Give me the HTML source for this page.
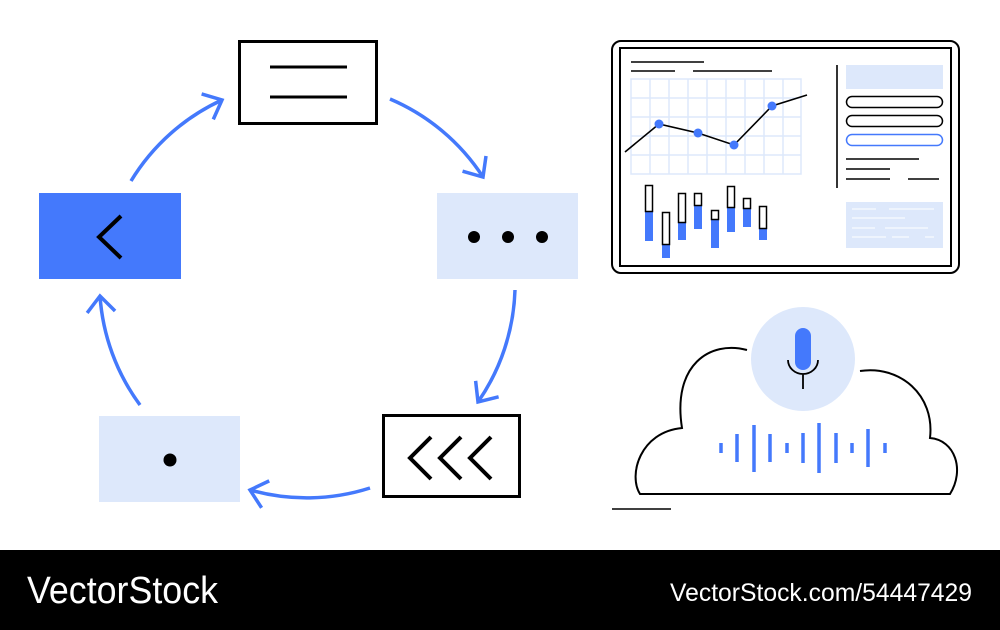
<!DOCTYPE html>
<html><head><meta charset="utf-8"><style>
html,body{margin:0;padding:0;background:#fff;width:1000px;height:630px;overflow:hidden}
svg{display:block}
</style></head><body>
<svg width="1000" height="630" viewBox="0 0 1000 630" xmlns="http://www.w3.org/2000/svg">
<defs>
<marker id="ah" markerUnits="userSpaceOnUse" markerWidth="44" markerHeight="44" refX="22" refY="22" orient="auto">
<path d="M6,8 L22,22 L6,36" fill="none" stroke="#4479fc" stroke-width="3.5"/>
</marker>
</defs>
<g fill="none" stroke="#4479fc" stroke-width="3.5" marker-end="url(#ah)">
<path d="M131,181 A208,208 0 0 1 222,100"/>
<path d="M390,99 A208,208 0 0 1 483,177"/>
<path d="M515,290 A208,208 0 0 1 478,402"/>
<path d="M370,488 A208,208 0 0 1 250,490"/>
<path d="M140,405 A208,208 0 0 1 100,296"/>
</g>
<!-- boxes -->
<rect x="239.5" y="41.5" width="137" height="82" fill="#fff" stroke="#000" stroke-width="3"/>
<line x1="270" y1="67" x2="347" y2="67" stroke="#000" stroke-width="3"/>
<line x1="270" y1="97" x2="347" y2="97" stroke="#000" stroke-width="3"/>
<rect x="437" y="193" width="141" height="86" fill="#dde8fb"/>
<circle cx="474" cy="237" r="6" fill="#000"/><circle cx="508" cy="237" r="6" fill="#000"/><circle cx="542" cy="237" r="6" fill="#000"/>
<rect x="383.5" y="415.5" width="136" height="81" fill="#fff" stroke="#000" stroke-width="3"/>
<path d="M431,437 L410,458 L431,479 M461,437 L440,458 L461,479 M491,437 L470,458 L491,479" fill="none" stroke="#000" stroke-width="4"/>
<rect x="99" y="416" width="141" height="86" fill="#dde8fb"/>
<circle cx="170" cy="460" r="6.5" fill="#000"/>
<rect x="39" y="193" width="142" height="86" fill="#4479fc"/>
<path d="M121,216 L99,237 L121,258" fill="none" stroke="#000" stroke-width="4"/>
<!-- tablet -->
<rect x="612" y="41" width="347" height="232" rx="9" fill="#fff" stroke="#000" stroke-width="2"/>
<rect x="620" y="48" width="331" height="218" fill="none" stroke="#000" stroke-width="2"/>
<g stroke="#000" stroke-width="1.6">
<line x1="631" y1="62" x2="704" y2="62"/><line x1="631" y1="71" x2="675" y2="71"/><line x1="693" y1="71" x2="772" y2="71"/>
</g>
<g stroke="#dde8fb" stroke-width="1.5" fill="none">
<rect x="631" y="79" width="170" height="95"/>
<line x1="650" y1="79" x2="650" y2="174"/><line x1="669" y1="79" x2="669" y2="174"/><line x1="688" y1="79" x2="688" y2="174"/><line x1="707" y1="79" x2="707" y2="174"/><line x1="726" y1="79" x2="726" y2="174"/><line x1="745" y1="79" x2="745" y2="174"/><line x1="764" y1="79" x2="764" y2="174"/><line x1="783" y1="79" x2="783" y2="174"/>
<line x1="631" y1="98" x2="801" y2="98"/><line x1="631" y1="117" x2="801" y2="117"/><line x1="631" y1="136" x2="801" y2="136"/><line x1="631" y1="155" x2="801" y2="155"/>
</g>
<polyline points="625,152 659,124 698,133 734,145 772,106 807,95" fill="none" stroke="#000" stroke-width="1.6"/>
<g fill="#4479fc"><circle cx="659" cy="124" r="4.5"/><circle cx="698" cy="133" r="4.5"/><circle cx="734" cy="145" r="4.5"/><circle cx="772" cy="106" r="4.5"/></g>
<g fill="#4479fc">
<rect x="645" y="212" width="8" height="29"/><rect x="662" y="245" width="8" height="13"/><rect x="678" y="223" width="8" height="17"/><rect x="694" y="206" width="8" height="23"/><rect x="711" y="220" width="8" height="28"/><rect x="727" y="208" width="8" height="24"/><rect x="743" y="209" width="8" height="18"/><rect x="759" y="229" width="8" height="11"/>
</g>
<g fill="none" stroke="#000" stroke-width="1.5">
<rect x="645.5" y="185.5" width="7" height="26"/><rect x="662.5" y="212.5" width="7" height="32"/><rect x="678.5" y="193.5" width="7" height="29"/><rect x="694.5" y="193.5" width="7" height="12"/><rect x="711.5" y="210.5" width="7" height="9"/><rect x="727.5" y="186.5" width="7" height="21"/><rect x="743.5" y="198.5" width="7" height="10"/><rect x="759.5" y="206.5" width="7" height="22"/>
</g>
<line x1="837" y1="65" x2="837" y2="188" stroke="#000" stroke-width="1.6"/>
<rect x="846" y="65" width="97" height="24" fill="#dde8fb"/>
<rect x="846.5" y="96.5" width="96" height="11" rx="5.5" fill="none" stroke="#000" stroke-width="1.5"/>
<rect x="846.5" y="115.5" width="96" height="11" rx="5.5" fill="none" stroke="#000" stroke-width="1.5"/>
<rect x="846.5" y="134.5" width="96" height="11" rx="5.5" fill="none" stroke="#4479fc" stroke-width="1.5"/>
<g stroke="#000" stroke-width="1.6"><line x1="846" y1="159" x2="919" y2="159"/><line x1="846" y1="169" x2="890" y2="169"/><line x1="846" y1="179" x2="890" y2="179"/><line x1="908" y1="179" x2="939" y2="179"/></g>
<rect x="846" y="202" width="97" height="46" fill="#dde8fb"/>
<g stroke="#fff" stroke-width="1"><line x1="852" y1="209" x2="876" y2="209"/><line x1="889" y1="209" x2="934" y2="209"/><line x1="852" y1="218" x2="905" y2="218"/><line x1="852" y1="228" x2="875" y2="228"/><line x1="885" y1="228" x2="928" y2="228"/><line x1="852" y1="237" x2="886" y2="237"/><line x1="892" y1="237" x2="909" y2="237"/><line x1="925" y1="237" x2="934" y2="237"/></g>
<!-- cloud -->
<path d="M747,350 C710,340 672,365 682,428 C640,432 628,475 640,494 L950,494 C965,470 955,440 930,438 C935,395 900,365 860,371" fill="none" stroke="#000" stroke-width="2"/>
<circle cx="803" cy="359" r="52" fill="#dde8fb"/>
<rect x="795" y="328" width="16" height="42" rx="8" fill="#4479fc"/>
<path d="M788,360 A15,14 0 0 0 818,360 M803,374 L803,389" fill="none" stroke="#000" stroke-width="1.8"/>
<g stroke="#4479fc" stroke-width="3.5">
<line x1="721" y1="443" x2="721" y2="453"/><line x1="737" y1="434" x2="737" y2="462"/><line x1="754" y1="425" x2="754" y2="472"/><line x1="770" y1="434" x2="770" y2="462"/><line x1="787" y1="443" x2="787" y2="453"/><line x1="803" y1="433" x2="803" y2="463"/><line x1="819" y1="423" x2="819" y2="473"/><line x1="836" y1="433" x2="836" y2="463"/><line x1="852" y1="443" x2="852" y2="453"/><line x1="868" y1="429" x2="868" y2="467"/><line x1="885" y1="443" x2="885" y2="453"/>
</g>
<line x1="612" y1="509" x2="671" y2="509" stroke="#000" stroke-width="1.6"/>
<!-- footer -->
<rect x="0" y="550" width="1000" height="80" fill="#000"/>
<text x="27" y="603" font-family="Liberation Sans, sans-serif" font-size="38" fill="#fff" textLength="191" lengthAdjust="spacingAndGlyphs">VectorStock</text>
<text x="670" y="601" font-family="Liberation Sans, sans-serif" font-size="25" fill="#fff" textLength="302" lengthAdjust="spacingAndGlyphs">VectorStock.com/54447429</text>
</svg>
</body></html>
